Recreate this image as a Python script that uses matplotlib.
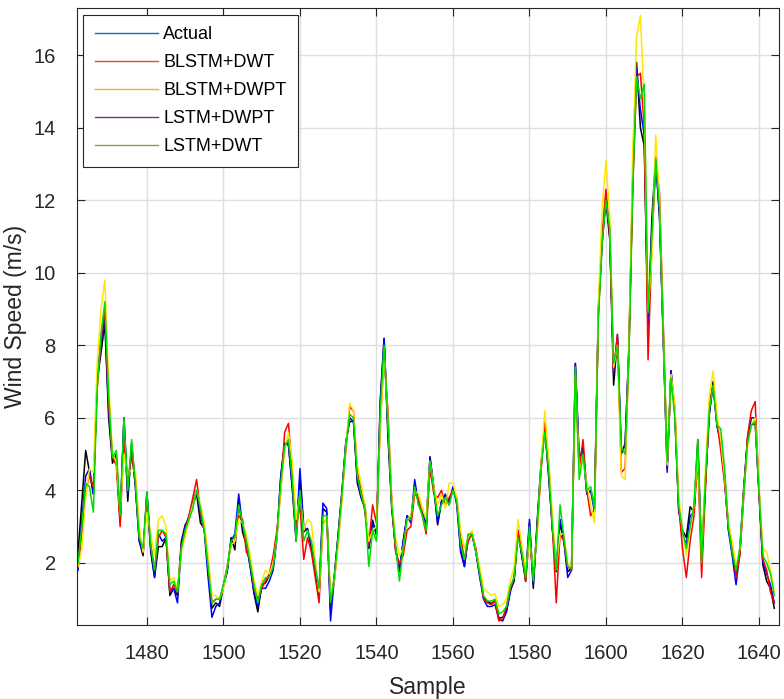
import matplotlib
matplotlib.use("Agg")
import matplotlib.pyplot as plt
from matplotlib.lines import Line2D
import numpy as np

plt.rcParams['font.family'] = ['Liberation Sans', 'DejaVu Sans']

sample = np.arange(1462, 1645)

actual = [
	2.3, 3.7, 5.1, 4.5, 3.9, 7.0, 7.8, 8.6, 6.0, 4.75,
	5.0, 3.1, 6.0, 3.7, 5.3, 4.1, 2.6, 2.2, 3.95, 2.3,
	1.6, 2.45, 2.45, 2.7, 1.1, 1.3, 1.1, 2.6, 3.05, 3.2,
	3.6, 3.9, 3.1, 2.95, 1.76, 0.75, 0.9, 0.8, 1.35, 1.76,
	2.7, 2.36, 3.75, 2.85, 2.5, 1.9, 1.15, 0.65, 1.4, 1.45,
	1.65, 1.85, 2.77, 4.4, 5.3, 5.25, 4.05, 2.6, 4.4, 2.86,
	2.95, 2.4, 1.76, 1.1, 3.5, 3.4, 0.7, 1.67, 2.77, 3.96,
	5.34, 5.9, 5.9, 4.2, 3.8, 3.5, 2.4, 3.18, 2.77, 6.5,
	8.18, 5.5, 3.5, 2.4, 1.76, 2.6, 3.3, 3.18, 4.15, 3.7,
	3.4, 3.1, 4.93, 4.05, 3.05, 3.7, 3.87, 3.7, 4.05, 3.7,
	2.4, 1.9, 2.77, 2.77, 2.3, 1.67, 1.05, 0.94, 0.88, 0.96,
	0.48, 0.5, 0.7, 1.25, 1.5, 2.86, 2.2, 1.49, 3.1, 1.3,
	3.14, 4.7, 5.8, 4.4, 2.95, 1.76, 3.1, 2.6, 1.76, 1.85,
	7.5, 4.8, 5.2, 3.9, 4.0, 3.6, 9.0, 10.9, 12.0, 10.9,
	6.9, 8.2, 5.0, 5.3, 8.0, 12.7, 15.8, 14.0, 13.5, 8.5,
	11.5, 13.2, 11.5, 8.0, 4.6, 7.3, 6.1, 3.45, 2.9, 2.7,
	3.55, 3.4, 5.4, 2.2, 4.25, 6.1, 7.0, 5.8, 5.35, 4.4,
	2.95, 2.3, 1.67, 2.4, 4.05, 5.43, 5.8, 5.85, 3.96, 1.95,
	1.5, 1.3, 0.75,
]

blstm_dwt = [
	1.9, 2.8, 4.0, 4.4, 4.1, 6.8, 8.2, 9.0, 6.4, 4.9,
	4.7, 3.0, 5.4, 4.2, 5.0, 4.3, 2.8, 2.3, 3.7, 2.5,
	1.8, 2.7, 2.9, 2.7, 1.2, 1.4, 1.2, 2.4, 2.9, 3.3,
	3.8, 4.3, 3.4, 2.9, 2.0, 0.9, 1.0, 1.0, 1.35, 1.9,
	2.5, 2.6, 3.3, 3.2, 2.3, 2.1, 1.3, 1.0, 1.3, 1.5,
	1.7, 2.2, 2.9, 4.0, 5.6, 5.85, 4.5, 3.0, 3.6, 2.1,
	2.7, 2.3, 1.6, 0.9, 3.1, 3.2, 1.0, 1.5, 2.6, 3.9,
	5.1, 6.3, 6.2, 4.5, 4.0, 3.4, 2.5, 3.6, 3.1, 5.8,
	7.7, 6.2, 3.7, 2.3, 2.0, 2.2, 2.9, 3.0, 3.9, 3.8,
	3.3, 2.8, 4.6, 3.9, 3.8, 4.0, 3.6, 3.8, 4.0, 3.8,
	2.7, 2.1, 2.6, 2.8, 2.4, 1.8, 1.0, 0.9, 0.85, 0.95,
	0.4, 0.45, 0.8, 1.3, 1.6, 2.9, 2.4, 1.5, 2.8, 1.6,
	2.9, 4.5, 5.9, 4.8, 3.0, 0.9, 2.8, 2.6, 1.9, 1.8,
	7.1, 4.6, 5.4, 4.0, 3.3, 3.5, 8.8, 11.1, 12.3, 11.0,
	7.3, 8.3, 4.5, 4.6, 7.8, 12.3, 15.4, 15.5, 14.0, 7.6,
	10.8, 13.0, 12.2, 8.5, 4.8, 7.0, 6.3, 3.6, 2.4, 1.6,
	2.6, 3.3, 4.9, 1.6, 4.0, 6.4, 6.9, 5.9, 5.1, 4.2,
	3.0, 2.5, 1.6, 2.2, 3.8, 5.5, 6.2, 6.45, 4.0, 2.1,
	1.8, 1.2, 0.9,
]

blstm_dwpt = [
	1.9, 2.4, 3.8, 4.6, 4.5, 7.5, 9.0, 9.8, 7.0, 5.0,
	4.8, 3.4, 5.0, 4.4, 4.6, 4.5, 3.0, 2.3, 3.4, 2.8,
	2.2, 3.2, 3.3, 3.0, 1.5, 1.6, 1.3, 2.3, 2.7, 3.2,
	3.6, 4.0, 3.6, 3.1, 2.2, 1.1, 1.1, 1.0, 1.3, 1.9,
	2.5, 2.6, 3.2, 3.1, 2.8, 2.2, 1.5, 1.1, 1.5, 1.8,
	1.7, 2.0, 2.7, 4.0, 5.1, 5.6, 4.8, 3.2, 3.9, 2.9,
	3.2, 3.1, 2.1, 1.2, 3.0, 3.3, 1.1, 1.5, 2.5, 3.7,
	5.2, 6.4, 6.2, 4.7, 4.2, 3.6, 2.6, 2.9, 3.0, 5.7,
	7.8, 6.0, 3.8, 2.7, 2.2, 2.4, 3.2, 3.3, 4.0, 3.9,
	3.5, 3.2, 4.8, 4.1, 3.6, 3.9, 3.5, 4.2, 4.2, 3.8,
	2.9, 2.4, 2.7, 2.9, 2.3, 1.9, 1.3, 1.2, 1.1, 1.15,
	0.8, 0.85, 1.0, 1.5, 1.9, 3.2, 2.5, 1.8, 2.6, 1.9,
	2.7, 4.7, 6.2, 4.9, 3.3, 1.9, 2.8, 2.8, 2.0, 1.9,
	7.2, 4.6, 4.8, 4.2, 3.6, 3.1, 9.1, 11.8, 13.1, 11.5,
	7.4, 8.0, 4.4, 4.3, 8.0, 13.4, 16.5, 17.1, 14.7, 9.0,
	10.4, 13.8, 12.0, 8.3, 4.7, 7.2, 6.4, 3.8, 2.9, 2.2,
	2.9, 3.6, 5.0, 2.2, 4.6, 6.6, 7.3, 6.1, 5.4, 4.4,
	3.1, 2.6, 1.9, 2.4, 3.9, 5.2, 5.8, 6.0, 4.2, 2.4,
	2.3, 1.8, 1.2,
]

lstm_dwpt = [
	1.8, 3.2, 4.4, 4.6, 3.9, 7.1, 8.1, 8.8, 6.2, 4.9,
	4.9, 3.2, 6.0, 3.9, 5.1, 4.1, 2.6, 2.3, 3.9, 2.4,
	1.6, 2.8, 2.6, 2.7, 1.2, 1.3, 0.9, 2.5, 3.0, 3.3,
	3.7, 4.0, 3.3, 2.9, 1.6, 0.5, 0.8, 0.9, 1.4, 1.8,
	2.6, 2.8, 3.9, 3.0, 2.6, 1.9, 1.2, 0.8, 1.3, 1.3,
	1.5, 1.8, 2.7, 4.4, 5.3, 5.3, 4.1, 2.7, 4.6, 3.0,
	2.9, 2.5, 1.8, 1.2, 3.65, 3.5, 0.4, 1.6, 2.8, 4.0,
	5.3, 6.0, 5.9, 4.3, 3.8, 3.6, 2.4, 3.1, 2.8, 6.4,
	8.2, 5.7, 3.6, 2.4, 1.8, 2.6, 3.3, 3.1, 4.3, 3.6,
	3.5, 3.0, 4.9, 4.1, 3.1, 3.7, 3.9, 3.6, 4.1, 3.6,
	2.3, 1.9, 2.7, 2.8, 2.3, 1.6, 1.0, 0.8, 0.8, 0.85,
	0.45, 0.4, 0.65, 1.2, 1.6, 2.9, 2.2, 1.6, 3.2, 1.4,
	3.0, 4.6, 5.7, 4.5, 2.9, 1.9, 3.2, 2.6, 1.6, 1.8,
	7.5, 4.9, 5.1, 3.9, 4.0, 3.4, 8.9, 10.8, 12.1, 11.0,
	7.2, 8.3, 5.1, 5.2, 7.9, 12.6, 15.6, 14.5, 13.8, 8.6,
	11.2, 13.0, 11.6, 8.2, 4.5, 7.3, 6.2, 3.5, 2.8, 2.5,
	3.3, 3.4, 5.2, 2.1, 4.2, 6.1, 6.9, 5.8, 5.3, 4.3,
	2.9, 2.2, 1.4, 2.3, 4.0, 5.4, 6.0, 6.0, 3.9, 2.0,
	1.7, 1.4, 0.9,
]

lstm_dwt = [
	2.0, 3.0, 4.2, 4.1, 3.4, 6.8, 8.3, 9.2, 6.6, 4.9,
	5.1, 3.3, 6.0, 4.0, 5.4, 4.2, 2.7, 2.4, 3.95, 2.5,
	1.8, 2.9, 2.9, 2.8, 1.4, 1.5, 1.2, 2.4, 2.9, 3.2,
	3.5, 4.0, 3.5, 2.9, 1.9, 0.9, 1.0, 1.0, 1.4, 1.9,
	2.6, 2.7, 3.6, 3.1, 2.6, 2.0, 1.4, 0.9, 1.4, 1.6,
	1.6, 1.9, 2.8, 4.2, 5.2, 5.4, 4.3, 2.6, 4.0, 2.6,
	2.9, 2.6, 1.9, 1.3, 3.3, 3.3, 0.9, 1.6, 2.7, 3.9,
	5.2, 6.1, 6.0, 4.4, 3.9, 3.5, 1.9, 2.9, 2.6, 6.2,
	8.0, 5.9, 3.6, 2.5, 1.5, 2.4, 3.2, 3.2, 4.1, 3.6,
	3.3, 2.9, 4.8, 4.0, 3.3, 3.6, 3.8, 3.6, 4.0, 3.7,
	2.5, 2.1, 2.8, 2.8, 2.3, 1.7, 1.1, 0.95, 0.95, 1.0,
	0.6, 0.65, 0.8, 1.35, 1.6, 2.7, 2.3, 1.6, 3.0, 1.5,
	2.9, 4.6, 5.6, 4.6, 3.0, 1.8, 3.6, 2.7, 1.9, 1.85,
	7.4, 4.3, 5.0, 4.0, 4.1, 3.5, 8.7, 10.8, 12.0, 11.2,
	7.5, 8.0, 5.2, 5.0, 7.7, 12.4, 15.4, 14.8, 15.2, 8.9,
	11.0, 13.1, 11.8, 8.3, 4.8, 7.1, 6.0, 3.6, 2.9, 2.4,
	3.0, 3.6, 5.4, 2.0, 4.3, 6.2, 6.9, 5.8, 5.7, 4.6,
	3.0, 2.3, 1.8, 2.4, 3.9, 5.3, 5.8, 5.9, 4.0, 2.2,
	2.0, 1.7, 1.1,
]

labels = ["Actual", "BLSTM+DWT", "BLSTM+DWPT", "LSTM+DWPT", "LSTM+DWT"]
legend_colors = ["#0072BD", "#D95319", "#EDB120", "#7E2F8E", "#77AC30"]

fig = plt.figure(figsize=(7.84, 6.99), dpi=100)
ax = fig.add_axes([0.0976, 0.1059, 0.8954, 0.8827])

ax.plot(sample, actual, color="black", linewidth=1.1)
ax.plot(sample, lstm_dwpt, color="#0000FF", linewidth=1.1)
ax.plot(sample, blstm_dwt, color="#FF0000", linewidth=1.1)
ax.plot(sample, blstm_dwpt, color="#FFE600", linewidth=1.1)
ax.plot(sample, lstm_dwt, color="#00DD00", linewidth=1.1)

ax.set_xlim(1461.6, 1645.1)
ax.set_ylim(0.29, 17.3)
ax.set_xticks(np.arange(1480, 1641, 20))
ax.set_yticks(np.arange(2, 17, 2))
ax.grid(True, color="#DFDFDF", linewidth=1.0)
ax.set_axisbelow(True)
ax.tick_params(direction="in", length=6, width=0.8, colors="#262626",
			   labelsize=14.5, top=True, right=True)
ax.tick_params(axis="x", pad=14)
ax.tick_params(axis="y", pad=15)
for s in ax.spines.values():
	s.set_color("#262626")
	s.set_linewidth(0.8)

ax.set_xlabel("Sample", fontsize=16.5, color="#262626")
ax.set_ylabel("Wind Speed (m/s)", fontsize=16.5, color="#262626")
ax.xaxis.set_label_coords(0.5, -0.083)
ax.yaxis.set_label_coords(-0.071, 0.5)

handles = [Line2D([0], [0], color=c, linewidth=1.0) for c in legend_colors]
leg = ax.legend(handles, labels, loc="upper left", bbox_to_anchor=(0.009, 0.989),
				borderaxespad=0, fontsize=13, fancybox=False, framealpha=1,
				edgecolor="#262626", handlelength=3.5, handletextpad=0.3,
				labelspacing=0.6, borderpad=0.65)
leg.get_frame().set_linewidth(0.8)

plt.savefig("out.png", dpi=100)
